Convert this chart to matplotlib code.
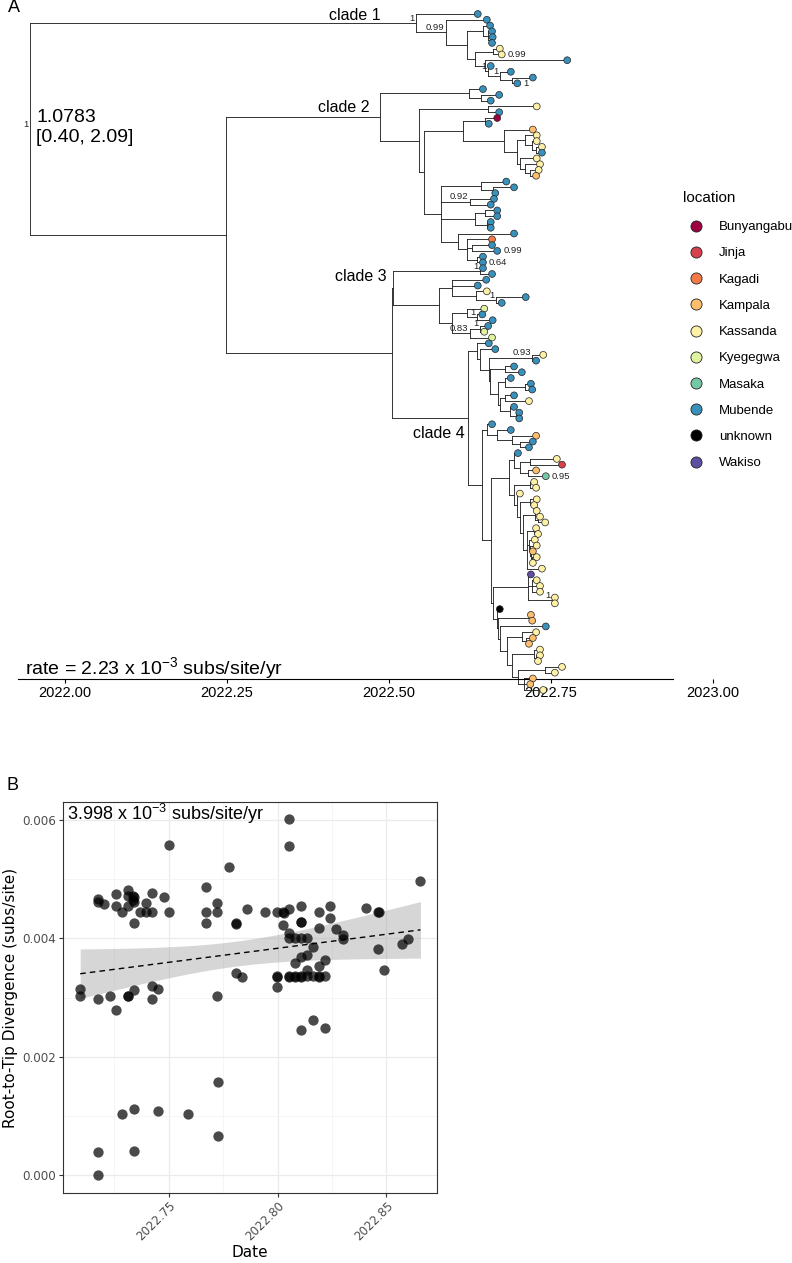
import numpy as np
import matplotlib
matplotlib.use('Agg')
import matplotlib.pyplot as plt
from matplotlib.collections import LineCollection
from matplotlib.lines import Line2D

plt.rcParams['mathtext.fontset'] = 'custom'
plt.rcParams['mathtext.rm'] = 'Liberation Sans'
plt.rcParams['mathtext.it'] = 'Liberation Sans:italic'
plt.rcParams['mathtext.bf'] = 'Liberation Sans:bold'
SANS = 'Liberation Sans'


# ----------
# Tree data
# ----------
def N(date, support, *kids):
  return (date, support, list(kids))

def T(loc, date):
  return (loc, date)

locations = ['Bunyangabu', 'Jinja', 'Kagadi', 'Kampala', 'Kassanda',
             'Kyegegwa', 'Masaka', 'Mubende', 'unknown', 'Wakiso']
loc_codes = ['B', 'J', 'G', 'P', 'K', 'Y', 'S', 'M', 'U', 'W']
loc_colors = ['#9E0142', '#D7424D', '#F57A48', '#FDBE6E', '#FEF1A6',
              '#E0F3A0', '#75C8A5', '#3890BB', '#000000', '#5E4FA2']

clade1 = N(2022.542, '1',
  T('M', 2022.637),
  N(2022.588, '0.99',
    T('M', 2022.651),
    N(2022.620, None,
      N(2022.645, None,
        T('M', 2022.656),
        N(2022.653, None,
          T('M', 2022.659),
          N(2022.656, None, T('M', 2022.660), T('M', 2022.659)))),
      N(2022.633, None,
        N(2022.660, '0.99', T('K', 2022.671), T('K', 2022.674)),
        N(2022.648, None,
          T('M', 2022.775),
          N(2022.653, '1',
            T('M', 2022.657),
            N(2022.671, '1',
              T('M', 2022.688),
              N(2022.690, '1', T('M', 2022.722), T('M', 2022.698)))))))))

clade2 = N(2022.486, None,
  N(2022.623, None,
    T('M', 2022.645),
    N(2022.642, None, T('M', 2022.670), T('M', 2022.657))),
  N(2022.546, None,
    N(2022.653, None, T('K', 2022.728), T('M', 2022.670)),
    N(2022.554, None,
      N(2022.614, None,
        N(2022.648, None, T('B', 2022.667), T('M', 2022.654)),
        N(2022.677, None,
          T('P', 2022.722),
          N(2022.698, None,
            N(2022.710, None,
              T('K', 2022.728),
              N(2022.721, None, T('K', 2022.728),
                N(2022.727, None, T('K', 2022.736), T('M', 2022.736)))),
            N(2022.702, None,
              T('K', 2022.728),
              N(2022.710, None, T('K', 2022.733),
                N(2022.718, None, T('K', 2022.731), T('P', 2022.727))))))),
      N(2022.580, None,
        N(2022.642, None, T('M', 2022.681),
          N(2022.660, None, T('M', 2022.693), T('M', 2022.664))),
        N(2022.625, '0.92', T('M', 2022.662), T('M', 2022.657)),
        N(2022.633, None,
          N(2022.648, None, T('M', 2022.667), T('M', 2022.667)),
          N(2022.651, None, T('M', 2022.657), T('M', 2022.657))),
        N(2022.606, None,
          T('M', 2022.693),
          N(2022.620, None,
            T('G', 2022.659),
            N(2022.628, '0.99', T('M', 2022.659), T('M', 2022.667)),
            N(2022.636, '0.64', T('M', 2022.645), T('M', 2022.645))))))))

clade3 = N(2022.506, None,
  N(2022.640, '1', T('M', 2022.645), T('M', 2022.659)),
  N(2022.577, None,
    N(2022.597, None,
      T('M', 2022.650),
      T('M', 2022.637),
      N(2022.634, None,
        T('K', 2022.651),
        N(2022.665, '1', T('M', 2022.711), T('M', 2022.674)))),
    N(2022.597, None,
      N(2022.620, None,
        T('Y', 2022.647),
        N(2022.636, '1', T('M', 2022.644), T('M', 2022.660))),
      N(2022.625, '0.83',
        N(2022.640, '1', T('M', 2022.653), T('Y', 2022.647)),
        T('Y', 2022.659)))))

clade4 = N(2022.622, None,
  N(2022.636, None,
    T('M', 2022.654),
    N(2022.640, None,
      T('M', 2022.664),
      N(2022.654, None,
        N(2022.721, '0.93', T('K', 2022.738), T('M', 2022.727)),
        N(2022.656, None,
          N(2022.679, None, T('M', 2022.693), T('M', 2022.705)),
          N(2022.668, None,
            N(2022.679, None, T('M', 2022.688),
              N(2022.710, None, T('M', 2022.719), T('M', 2022.721))),
            N(2022.671, None,
              N(2022.679, None, T('M', 2022.693), T('K', 2022.716)),
              N(2022.687, None, T('M', 2022.693),
                N(2022.696, None, T('M', 2022.701), T('M', 2022.701))))))))),
  N(2022.644, None,
    N(2022.651, None,
      T('M', 2022.659),
      N(2022.667, None,
        T('M', 2022.688),
        N(2022.690, None,
          T('P', 2022.727),
          N(2022.702, None, T('M', 2022.722), T('M', 2022.716))))),
    N(2022.657, None,
      N(2022.685, None,
        N(2022.693, None,
          T('M', 2022.699),
          N(2022.702, None,
            N(2022.718, None, T('K', 2022.759), T('J', 2022.767)),
            N(2022.715, '0.95', T('P', 2022.727), T('S', 2022.742)))),
        N(2022.693, None,
          N(2022.718, None, T('K', 2022.724), T('K', 2022.727)),
          N(2022.698, None,
            T('K', 2022.702),
            N(2022.702, None,
              N(2022.718, None, T('K', 2022.728), T('K', 2022.724)),
              N(2022.707, None,
                N(2022.725, None, T('K', 2022.728),
                  N(2022.730, None, T('K', 2022.733), T('K', 2022.741))),
                N(2022.713, None,
                  N(2022.724, None, T('K', 2022.727), T('K', 2022.730)),
                  N(2022.716, None,
                    T('K', 2022.725),
                    N(2022.718, None, T('K', 2022.728),
                      N(2022.719, None, T('P', 2022.722),
                        N(2022.721, None, T('K', 2022.728), T('K', 2022.722))))),
                  T('K', 2022.736))))))),
      N(2022.660, None,
        N(2022.715, None,
          T('W', 2022.719),
          N(2022.721, None, T('K', 2022.728), T('K', 2022.733), T('K', 2022.733)),
          N(2022.752, '1', T('K', 2022.756), T('K', 2022.756))),
        N(2022.667, None,
          T('U', 2022.671),
          N(2022.668, None,
            N(2022.718, None, T('P', 2022.719), T('P', 2022.721)),
            N(2022.671, None,
              T('M', 2022.742),
              N(2022.682, None,
                N(2022.705, None, T('K', 2022.727),
                  N(2022.712, None, T('P', 2022.722), T('P', 2022.716))),
                N(2022.690, None,
                  N(2022.724, None, T('K', 2022.733),
                    N(2022.727, None, T('K', 2022.733), T('K', 2022.730))),
                  N(2022.699, None,
                    N(2022.741, None, T('K', 2022.767), T('K', 2022.756)),
                    N(2022.708, '1', T('P', 2022.722), T('P', 2022.718),
                      T('K', 2022.738))))))))))))

root_date = 2021.946
inner_date = 2022.248
c34_date = 2022.505
root_support = '1'
root_height = '1.0783\n[0.40, 2.09]'
clade_names = ['clade 1', 'clade 2', 'clade 3', 'clade 4']
tree_rate = r'rate = 2.23 x 10$^{-3}$ subs/site/yr'
tree_ticks = [2022.0, 2022.25, 2022.5, 2022.75, 2023.0]


# -------------------------
# Root-to-tip regression data
# -------------------------
rtt_date = [
  2022.7093, 2022.7093, 2022.7174, 2022.7228, 2022.7257, 2022.7311, 2022.7315,
  2022.7340, 2022.7421, 2022.7421, 2022.7450,
  2022.7174, 2022.7174, 2022.7203, 2022.7257, 2022.7257, 2022.7286, 2022.7311,
  2022.7311, 2022.7311, 2022.7337, 2022.7340, 2022.7337, 2022.7340, 2022.7340,
  2022.7366, 2022.7394, 2022.7394, 2022.7421, 2022.7421, 2022.7477, 2022.7503,
  2022.7503,
  2022.7669, 2022.7669, 2022.7669, 2022.7724, 2022.7724, 2022.7724, 2022.7779,
  2022.7807, 2022.7809, 2022.7807, 2022.7836, 2022.7862, 2022.7943, 2022.7997,
  2022.7997, 2022.7999, 2022.7997, 2022.8026, 2022.8028, 2022.8026,
  2022.8053, 2022.8053, 2022.8053, 2022.8053, 2022.8053, 2022.8053, 2022.8055,
  2022.8079, 2022.8079, 2022.8081, 2022.8079,
  2022.8107, 2022.8107, 2022.8109, 2022.8107, 2022.8107, 2022.8107, 2022.8109,
  2022.8107,
  2022.8136, 2022.8136, 2022.8136, 2022.8136,
  2022.8161, 2022.8161, 2022.8161,
  2022.8190, 2022.8190, 2022.8190, 2022.8190, 2022.8192,
  2022.8219, 2022.8219, 2022.8219,
  2022.8243, 2022.8243, 2022.8271, 2022.8300, 2022.8300, 2022.8407,
  2022.8464, 2022.8466, 2022.8464, 2022.8490, 2022.8571, 2022.8600, 2022.8657,
  2022.7176, 2022.7176, 2022.7287, 2022.7340, 2022.7340, 2022.7450, 2022.7587,
  2022.7725, 2022.7725]
rtt_div = [
  0.00315, 0.00302, 0.00297, 0.00302, 0.00279, 0.00303, 0.00302,
  0.00313, 0.00319, 0.00298, 0.00315,
  0.00467, 0.00462, 0.00458, 0.00475, 0.00455, 0.00444, 0.00481,
  0.00471, 0.00454, 0.00471, 0.00469, 0.00464, 0.00462, 0.00426,
  0.00444, 0.00460, 0.00444, 0.00476, 0.00444, 0.00470, 0.00558,
  0.00445,
  0.00486, 0.00444, 0.00426, 0.00460, 0.00444, 0.00302, 0.00520,
  0.00425, 0.00424, 0.00341, 0.00334, 0.00449, 0.00445, 0.00444,
  0.00336, 0.00335, 0.00317, 0.00444, 0.00443, 0.00423,
  0.00601, 0.00555, 0.00449, 0.00409, 0.00400, 0.00336, 0.00335,
  0.00359, 0.00336, 0.00335, 0.00400,
  0.00455, 0.00428, 0.00427, 0.00400, 0.00369, 0.00336, 0.00335,
  0.00245,
  0.00400, 0.00372, 0.00347, 0.00336,
  0.00386, 0.00336, 0.00262,
  0.00444, 0.00417, 0.00354, 0.00336, 0.00335,
  0.00364, 0.00336, 0.00248,
  0.00455, 0.00435, 0.00415, 0.00406, 0.00398, 0.00451,
  0.00445, 0.00444, 0.00382, 0.00346, 0.00390, 0.00399, 0.00497,
  0.00000, 0.00040, 0.00104, 0.00112, 0.00041, 0.00109, 0.00104,
  0.00157, 0.00067]
rtt_rate = r'3.998 x 10$^{-3}$ subs/site/yr'
rtt_xticks = [2022.75, 2022.80, 2022.85]
rtt_yticks = [0.000, 0.002, 0.004, 0.006]


# ------------
# Tree layout
# ------------
col_of = dict(zip(loc_codes, loc_colors))
tips_x, tips_y, tips_c = [], [], []
segs, node_lab, node_pos = [], [], {}

def layout(node, px):
  if isinstance(node[0], str):
    y = -float(len(tips_x))
    tips_x.append(node[1]); tips_y.append(y); tips_c.append(col_of[node[0]])
    segs.append([(px, y), (node[1], y)])
    return y
  x = node[0]
  ys = [layout(k, x) for k in node[2]]
  y = (ys[0] + ys[-1]) / 2.
  segs.append([(x, ys[0]), (x, ys[-1])])
  if px is not None:
    segs.append([(px, y), (x, y)])
  if node[1]:
    last = node[2][-1]
    lx = last[1] if isinstance(last[0], str) else last[0]
    node_lab.append((x, y, node[1], lx, ys[-1]))
  node_pos[id(node)] = (x, y)
  return y

tree = N(root_date, root_support, clade1,
         N(inner_date, None, clade2, N(c34_date, None, clade3, clade4)))
layout(tree, None)

# support labels that sit to the right of their last tip (post-order index)
lab_right = {0, 1, 7, 8, 15}


# ------
# Figure
# ------
W, H = 792., 1263.
fig = plt.figure(figsize=(W/100, H/100), dpi=100)
PT = 0.72   # points per pixel

# Panel A: tree
ntip = len(tips_x)
dy = (690. - 14.) / (ntip - 1)
pxyr = 648.
axA = fig.add_axes([18/W, 1-679/H, 722/W, 674/H])
axA.add_collection(LineCollection(segs, colors='#262626', linewidths=0.65,
                                  capstyle='projecting', clip_on=False))
axA.scatter(tips_x, tips_y, s=24, c=tips_c, edgecolors='#222222',
            linewidths=0.5, zorder=3, clip_on=False)

for i, (x, y, lab, lx, ly) in enumerate(node_lab):
  if i in lab_right:
    axA.annotate(lab, (lx, ly), xytext=(6*PT, 0), textcoords='offset points',
                 ha='left', va='center', fontsize=6.8, family=SANS, color='#222222')
  else:
    axA.annotate(lab, (x, y), xytext=(-1.5*PT, 0.5*PT), textcoords='offset points',
                 ha='right', va='bottom', fontsize=6.8, family=SANS, color='#222222')

rx, ry = node_pos[id(tree)]
axA.annotate(root_height, (rx, ry), xytext=(6*PT, 2*PT), textcoords='offset points',
             ha='left', va='center', fontsize=14, family=SANS, linespacing=1.25)

clade_off = [(-36, 8), (-10, 10), (-6, 12), (-3, -15)]
for name, cl, off in zip(clade_names, [clade1, clade2, clade3, clade4], clade_off):
  cx, cy = node_pos[id(cl)]
  axA.annotate(name, (cx, cy), xytext=(off[0]*PT, off[1]*PT), textcoords='offset points',
               ha='right', va='center', fontsize=11.5, family=SANS)

axA.text(7/722, 11/674, tree_rate, transform=axA.transAxes, ha='left', va='center',
         fontsize=14, family=SANS)

for s in ['left', 'right', 'top']:
  axA.spines[s].set_visible(False)
axA.spines['bottom'].set_linewidth(0.8)
axA.set_yticks([])
axA.set_xticks(tree_ticks)
axA.set_xticklabels(['%.2f' % t for t in tree_ticks], family=SANS, fontsize=10.5)
axA.tick_params(axis='x', length=3, width=0.8, pad=2)
x_lo = 2022. + (18. - 65.)/pxyr
axA.set_xlim(x_lo, x_lo + 722./pxyr)
axA.spines['bottom'].set_bounds(x_lo, x_lo + 655./pxyr)
axA.set_ylim(-(679. - 14.)/dy, (14. - 5.)/dy)
axA.patch.set_alpha(0.0)

handles = [Line2D([], [], marker='o', ls='', markerfacecolor=c, markeredgecolor='#222222',
                  markeredgewidth=0.6, markersize=8) for c in loc_colors]
fig.text(683/W, 1-198/H, 'location', ha='left', va='center', fontsize=11, family=SANS)
fig.legend(handles, locations, loc='upper left',
           bbox_to_anchor=(689.4/W, 1-221/H), frameon=False,
           prop={'family': SANS, 'size': 9.5},
           handlelength=1.0, handletextpad=1.24, labelspacing=1.06,
           borderpad=0, borderaxespad=0)

fig.text(8/W, 1-8/H, 'A', ha='left', va='center', fontsize=13, family=SANS)
fig.text(7/W, 1-785/H, 'B', ha='left', va='center', fontsize=13, family=SANS)


# Panel B: root-to-tip regression
xd = np.array(rtt_date)
yd = np.array(rtt_div)
slope, icpt = np.polyfit(xd, yd, 1)
n = len(xd)
res = yd - (slope*xd + icpt)
mse = np.sum(res**2) / (n - 2)
sxx = np.sum((xd - xd.mean())**2)
xf = np.linspace(xd.min(), xd.max(), 100)
yf = slope*xf + icpt
se = np.sqrt(mse * (1./n + (xf - xd.mean())**2 / sxx))
tq = 1.983

axB = fig.add_axes([63/W, 1-1193/H, 374/W, 391/H])
axB.fill_between(xf, yf - tq*se, yf + tq*se, color='#999999', alpha=0.4, lw=0, zorder=2)
axB.plot(xf, yf, color='black', ls=(0, (4, 3)), lw=1.0, zorder=3)
axB.scatter(xd, yd, s=55, color='black', alpha=0.71, linewidths=0, zorder=4)

axB.set_xticks(rtt_xticks)
axB.set_xticks([2022.725, 2022.775, 2022.825], minor=True)
axB.set_yticks(rtt_yticks)
axB.set_yticks([0.001, 0.003, 0.005], minor=True)
axB.set_xlim(2022.7014, 2022.8733)
axB.set_ylim(-0.0003, 0.0063)
axB.set_xticklabels(['%.2f' % t for t in rtt_xticks], rotation=45, ha='right',
                    va='top', rotation_mode='anchor')
axB.set_yticklabels(['%.3f' % t for t in rtt_yticks])
axB.grid(which='major', color='#EBEBEB', lw=0.9, zorder=0)
axB.grid(which='minor', color='#F2F2F2', lw=0.5, zorder=0)
axB.set_axisbelow(True)
axB.tick_params(which='major', length=2.75, width=0.8, color='#333333',
                labelcolor='#4D4D4D', labelsize=8.6, pad=2)
axB.tick_params(which='minor', length=0)
for s in axB.spines.values():
  s.set_color('#333333'); s.set_linewidth(0.8)
axB.set_xlabel('Date', fontsize=11, labelpad=1)
axB.set_ylabel('Root-to-Tip Divergence (subs/site)', fontsize=11, labelpad=3)
axB.text(4/374, 1.0, rtt_rate, transform=axB.transAxes, ha='left', va='top',
         fontsize=13, family=SANS, zorder=5)

fig.savefig('out.png', dpi=100)
